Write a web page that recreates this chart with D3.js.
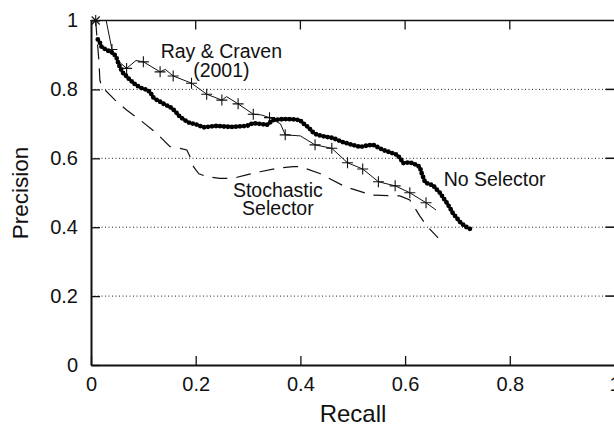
<!DOCTYPE html>
<html>
<head>
<meta charset="utf-8">
<script src="https://cdn.jsdelivr.net/npm/d3@7/dist/d3.min.js"></script>
<style>
  html, body { margin: 0; padding: 0; background: #fff; }
  svg { display: block; font-family: "Liberation Sans", Arial, sans-serif; }
</style>
</head>
<body>
<svg id="chart" width="614" height="426"></svg>
<script>
// ---- data ----
const xTicks = [0, 0.2, 0.4, 0.6, 0.8, 1];
const yTicks = [0, 0.2, 0.4, 0.6, 0.8, 1];
const xTickLabels = ["0", "0.2", "0.4", "0.6", "0.8", "1"];
const yTickLabels = ["0", "0.2", "0.4", "0.6", "0.8", "1"];
const gridValues = [0.2, 0.4, 0.6, 0.8];

// No Selector (recall, precision)
const noSelector = [
  [0.013,0.945],[0.018,0.933],[0.020,0.924],[0.030,0.914],[0.042,0.906],[0.048,0.895],
  [0.052,0.877],[0.056,0.862],[0.061,0.848],[0.068,0.838],[0.074,0.828],[0.084,0.815],
  [0.094,0.805],[0.104,0.800],[0.113,0.793],[0.118,0.778],[0.125,0.770],[0.132,0.764],
  [0.140,0.757],[0.151,0.749],[0.160,0.738],[0.170,0.720],[0.180,0.710],[0.189,0.702],
  [0.198,0.700],[0.208,0.694],[0.215,0.690],[0.222,0.691],[0.232,0.693],[0.241,0.694],
  [0.256,0.692],[0.271,0.691],[0.285,0.693],[0.298,0.694],[0.309,0.702],[0.322,0.700],
  [0.336,0.697],[0.348,0.711],[0.360,0.713],[0.374,0.714],[0.387,0.713],[0.399,0.711],
  [0.405,0.702],[0.415,0.690],[0.425,0.674],[0.432,0.668],[0.447,0.663],[0.462,0.659],
  [0.481,0.647],[0.497,0.640],[0.514,0.633],[0.527,0.637],[0.539,0.639],[0.548,0.632],
  [0.558,0.624],[0.572,0.617],[0.585,0.610],[0.592,0.597],[0.596,0.586],[0.606,0.588],
  [0.615,0.586],[0.622,0.580],[0.628,0.575],[0.632,0.555],[0.638,0.531],[0.645,0.525],
  [0.653,0.522],[0.660,0.510],[0.667,0.499],[0.673,0.485],[0.680,0.470],[0.686,0.455],
  [0.691,0.441],[0.698,0.428],[0.705,0.415],[0.714,0.403],[0.724,0.395]
];

// Ray & Craven (2001): curve and marker positions
const rayCraven = [
  [0.009,1.0],[0.029,1.0],[0.040,0.916],[0.050,0.885],[0.068,0.861],[0.086,0.884],
  [0.100,0.880],[0.132,0.851],[0.142,0.858],[0.157,0.839],[0.192,0.818],[0.221,0.786],
  [0.250,0.769],[0.259,0.779],[0.281,0.758],[0.310,0.728],[0.325,0.726],[0.341,0.718],
  [0.362,0.700],[0.371,0.668],[0.400,0.665],[0.428,0.639],[0.460,0.629],[0.490,0.587],
  [0.519,0.569],[0.549,0.532],[0.581,0.520],[0.609,0.500],[0.640,0.471],[0.659,0.450]
];
const rayCravenMarks = [
  [0.009,1.0],[0.040,0.916],[0.068,0.861],[0.100,0.880],[0.132,0.851],[0.157,0.839],
  [0.192,0.818],[0.221,0.786],[0.250,0.769],[0.281,0.758],[0.310,0.728],[0.341,0.718],
  [0.371,0.668],[0.428,0.639],[0.460,0.629],[0.490,0.587],[0.519,0.569],[0.549,0.532],
  [0.581,0.520],[0.609,0.500],[0.640,0.471]
];
const startStar = [[0.009,1.0]];

// Stochastic Selector
const stochastic = [
  [0.009,1.0],[0.011,0.958],[0.015,0.885],[0.017,0.827],[0.021,0.804],[0.027,0.798],
  [0.046,0.769],[0.068,0.740],[0.094,0.711],[0.125,0.673],[0.151,0.634],[0.170,0.629],
  [0.183,0.624],[0.189,0.605],[0.196,0.575],[0.206,0.555],[0.221,0.547],[0.246,0.542],
  [0.272,0.542],[0.297,0.552],[0.323,0.561],[0.355,0.571],[0.386,0.576],[0.399,0.576],
  [0.437,0.556],[0.485,0.518],[0.537,0.493],[0.590,0.491],[0.609,0.479],[0.628,0.433],
  [0.640,0.406],[0.663,0.369]
];

const annotations = [
  {lines: ["Ray & Craven", "(2001)"], x: 0.249, y: 0.890},
  {lines: ["Stochastic", "Selector"], x: 0.357, y: 0.488},
  {lines: ["No Selector"], x: 0.771, y: 0.520}
];

// ---- drawing ----
const svg = d3.select("#chart");
const x = d3.scaleLinear().domain([0, 1]).range([91, 614.5]);
const y = d3.scaleLinear().domain([0, 1]).range([365, 20.5]);

// grid lines
svg.append("g").selectAll("line").data(gridValues).join("line")
  .attr("x1", x(0)).attr("x2", x(1))
  .attr("y1", d => y(d)).attr("y2", d => y(d))
  .attr("stroke", "#222").attr("stroke-width", 1)
  .attr("stroke-dasharray", "1,2.5");

// frame: top border
svg.append("line").attr("x1", x(0)).attr("x2", x(1)).attr("y1", y(1)).attr("y2", y(1))
  .attr("stroke", "#111").attr("stroke-width", 1.6);

// axes
const xAxis = d3.axisBottom(x).tickValues(xTicks).tickFormat((d, i) => xTickLabels[i])
  .tickSizeInner(-9).tickSizeOuter(0).tickPadding(12);
const gx = svg.append("g").attr("transform", `translate(0,${y(0)})`).call(xAxis);
const yAxis = d3.axisLeft(y).tickValues(yTicks).tickFormat((d, i) => yTickLabels[i])
  .tickSizeInner(-9).tickSizeOuter(0).tickPadding(13);
const gy = svg.append("g").attr("transform", `translate(${x(0)},0)`).call(yAxis);
[gx, gy].forEach(g => {
  g.select(".domain").attr("stroke", "#111").attr("stroke-width", 2);
  g.selectAll(".tick line").attr("stroke", "#111").attr("stroke-width", 1.3);
  g.selectAll(".tick text").attr("fill", "#111").attr("font-size", 20)
    .attr("font-family", "'Liberation Sans', Arial, sans-serif");
});
gx.selectAll(".tick text").attr("dy", "0.71em");
// top ticks
svg.append("g").selectAll("line").data(xTicks.slice(1, -1)).join("line")
  .attr("x1", d => x(d)).attr("x2", d => x(d))
  .attr("y1", y(1)).attr("y2", y(1) + 9)
  .attr("stroke", "#111").attr("stroke-width", 1.3);
// right ticks
svg.append("g").selectAll("line").data(yTicks.slice(1, -1)).join("line")
  .attr("x1", x(1) - 9).attr("x2", x(1))
  .attr("y1", d => y(d)).attr("y2", d => y(d))
  .attr("stroke", "#111").attr("stroke-width", 1.5);

// axis titles
svg.append("text").attr("x", 353).attr("y", 422).attr("text-anchor", "middle")
  .attr("font-size", 24).attr("fill", "#111").text("Recall");
svg.append("text").attr("transform", "translate(28,193) rotate(-90)")
  .attr("text-anchor", "middle").attr("font-size", 22.5).attr("fill", "#111").text("Precision");

const line = d3.line().x(d => x(d[0])).y(d => y(d[1]));

// Stochastic (dashed)
svg.append("path").datum(stochastic).attr("d", line)
  .attr("fill", "none").attr("stroke", "#111").attr("stroke-width", 1.2)
  .attr("stroke-dasharray", "15,9");

// Ray & Craven (thin line with + markers)
svg.append("path").datum(rayCraven).attr("d", line)
  .attr("fill", "none").attr("stroke", "#111").attr("stroke-width", 1);
svg.append("g").selectAll("path").data(rayCravenMarks).join("path")
  .attr("transform", d => `translate(${x(d[0])},${y(d[1])})`)
  .attr("d", "M-5.5,0H5.5M0,-5.5V5.5")
  .attr("stroke", "#111").attr("stroke-width", 1.1).attr("fill", "none");
svg.append("g").selectAll("path").data(startStar).join("path")
  .attr("transform", d => `translate(${x(d[0])},${y(d[1])})`)
  .attr("d", "M-4,-4L4,4M-4,4L4,-4")
  .attr("stroke", "#111").attr("stroke-width", 1.1).attr("fill", "none");

// No Selector (beaded thick line)
svg.append("path").datum(noSelector).attr("d", line)
  .attr("fill", "none").attr("stroke", "#000").attr("stroke-width", 2)
  .attr("stroke-linejoin", "round");
svg.append("path").datum(noSelector).attr("d", line)
  .attr("fill", "none").attr("stroke", "#000").attr("stroke-width", 4.8)
  .attr("stroke-linecap", "round").attr("stroke-dasharray", "0,4");

// annotations
annotations.forEach(a => {
  const t = svg.append("text").attr("text-anchor", "middle")
    .attr("font-size", 19.5).attr("fill", "#111");
  a.lines.forEach((s, i) => {
    t.append("tspan").attr("x", x(a.x)).attr("y", y(a.y) + i * 18.5).text(s);
  });
});
</script>
</body>
</html>
